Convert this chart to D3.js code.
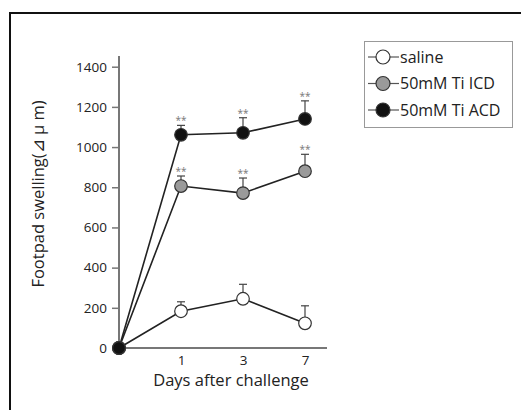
<!DOCTYPE html>
<html>
<head>
<meta charset="utf-8">
<script src="https://cdn.jsdelivr.net/npm/d3@7"></script>
<style>
  body { margin: 0; background: #fff; }
  svg text { font-family: "Open Sans", sans-serif; }
</style>
</head>
<body>
<svg id="chart" width="521" height="410"></svg>
<script>
// data
const days = [0, 1, 3, 7];
const yTicks = [0, 200, 400, 600, 800, 1000, 1200, 1400];
const seriesNames = ["saline", "50mM Ti ICD", "50mM Ti ACD"];
const seriesFill = ["#ffffff", "#9a9a9a", "#111111"];
const salineMean = [0, 183, 245, 123];
const salineErr = [0, 47, 72, 87];
const icdMean = [0, 806, 771, 880];
const icdErr = [0, 50, 75, 84];
const acdMean = [0, 1061, 1071, 1140];
const acdErr = [12, 47, 75, 90];
const starred = [false, true, true, true];

const svg = d3.select("#chart");

// outer frame (only top/left visible in the picture)
svg.append("path")
    .attr("d", "M10,410 V13 H521")
    .attr("fill", "none")
    .attr("stroke", "#111")
    .attr("stroke-width", 2);

const x = d3.scalePoint().domain(days).range([119, 305]);
const y = d3.scaleLinear().domain([0, 1400]).range([348, 66.7]);

// y axis
const yAxis = svg.append("g")
    .attr("transform", "translate(119,0)")
    .call(d3.axisLeft(y).tickValues(yTicks).tickFormat(d3.format("d"))
      .tickSize(7).tickPadding(5).tickSizeOuter(0));
yAxis.select(".domain").attr("d", "M0,56V348").attr("stroke", "#777").attr("stroke-width", 2);
yAxis.selectAll(".tick line").attr("stroke", "#777").attr("stroke-width", 1.5);
yAxis.selectAll(".tick text").attr("font-size", 13.5).attr("fill", "#222");

// x axis
const xAxis = svg.append("g")
    .attr("transform", "translate(0,348)")
    .call(d3.axisBottom(x).tickValues([1, 3, 7]).tickSize(0).tickPadding(7).tickSizeOuter(0));
xAxis.select(".domain").attr("d", "M119,0H327").attr("stroke", "#777").attr("stroke-width", 2);
xAxis.selectAll(".tick text").attr("font-size", 13.5).attr("fill", "#222");

svg.append("text")
    .attr("x", 231).attr("y", 386)
    .attr("text-anchor", "middle")
    .attr("font-size", 16.5).attr("fill", "#222")
    .text("Days after challenge");

svg.append("text")
    .attr("transform", "translate(44,194) rotate(-90)")
    .attr("text-anchor", "middle")
    .attr("font-size", 16.5).attr("fill", "#222")
    .text("Footpad swelling(⊿ μ m)");

const series = [
  { name: seriesNames[0], mean: salineMean, err: salineErr, fill: seriesFill[0], stars: false },
  { name: seriesNames[1], mean: icdMean, err: icdErr, fill: seriesFill[1], stars: true },
  { name: seriesNames[2], mean: acdMean, err: acdErr, fill: seriesFill[2], stars: true }
];

const line = d3.line().x((d, i) => x(days[i])).y(d => y(d));

series.forEach(s => {
  const g = svg.append("g");
  g.append("path")
      .attr("d", line(s.mean))
      .attr("fill", "none")
      .attr("stroke", "#222")
      .attr("stroke-width", 1.6);

  days.forEach((day, i) => {
    if (s.err[i] > 0) {
      const top = y(s.mean[i] + s.err[i]);
      g.append("line")
          .attr("x1", x(day)).attr("x2", x(day))
          .attr("y1", y(s.mean[i])).attr("y2", top)
          .attr("stroke", "#444").attr("stroke-width", 1.2);
      g.append("line")
          .attr("x1", x(day) - 4).attr("x2", x(day) + 4)
          .attr("y1", top).attr("y2", top)
          .attr("stroke", "#444").attr("stroke-width", 1.2);
      if (s.stars && starred[i]) {
        g.append("text")
            .attr("x", x(day)).attr("y", top - 1)
            .attr("text-anchor", "middle")
            .attr("font-size", 10).attr("fill", "#777")
            .text("**");
      }
    }
  });
});

// markers drawn on top of lines and error bars
series.forEach(s => {
  svg.append("g").selectAll("circle")
      .data(s.mean)
      .join("circle")
      .attr("cx", (d, i) => x(days[i]))
      .attr("cy", d => y(d))
      .attr("r", 6.3)
      .attr("fill", s.fill)
      .attr("stroke", "#333")
      .attr("stroke-width", 1.2);
});

// legend
const legend = svg.append("g");
legend.append("rect")
    .attr("x", 364.5).attr("y", 41.5)
    .attr("width", 148).attr("height", 86)
    .attr("fill", "#fff")
    .attr("stroke", "#999").attr("stroke-width", 1);

const ly = d3.scalePoint().domain(seriesNames).range([57, 110]);
seriesNames.forEach((name, i) => {
  const cy = ly(name);
  legend.append("line")
      .attr("x1", 368).attr("x2", 399)
      .attr("y1", cy).attr("y2", cy)
      .attr("stroke", "#555").attr("stroke-width", 1.2);
  legend.append("circle")
      .attr("cx", 383).attr("cy", cy).attr("r", 7)
      .attr("fill", seriesFill[i])
      .attr("stroke", "#333").attr("stroke-width", 1.2);
  legend.append("text")
      .attr("x", 400).attr("y", cy)
      .attr("dy", "0.35em")
      .attr("font-size", 16).attr("fill", "#222")
      .text(name);
});
</script>
</body>
</html>
